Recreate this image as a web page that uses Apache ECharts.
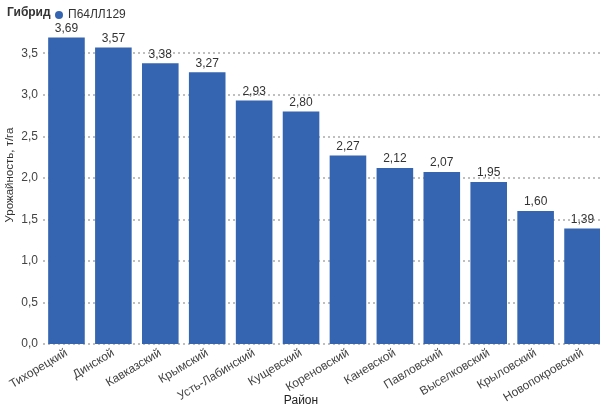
<!DOCTYPE html>
<html><head><meta charset="utf-8">
<script src="https://cdn.jsdelivr.net/npm/echarts@6/dist/echarts.min.js"></script>
<style>html,body{margin:0;padding:0;background:#fff}#c{width:600px;height:408px}</style>
</head><body><div id="c"></div>
<script>
const categories = ['Тихорецкий','Динской','Кавказский','Крымский','Усть-Лабинский','Кущевский','Кореновский','Каневской','Павловский','Выселковский','Крыловский','Новопокровский'];
const values = [3.69,3.57,3.38,3.27,2.93,2.80,2.27,2.12,2.07,1.95,1.60,1.39];
const seriesName = 'П64ЛЛ129';
const legendTitle = 'Гибрид';
const fmt = v => v.toFixed(2).replace('.', ',');
const chart = echarts.init(document.getElementById('c'));
chart.setOption({
  textStyle:{fontFamily:'Liberation Sans, Arial, sans-serif'},
  title:{text:legendTitle,left:2,top:2,textStyle:{fontSize:12,fontWeight:'bold',color:'#333'}},
  legend:{left:50,top:4,itemWidth:8,itemHeight:8,icon:'circle',itemGap:4,textStyle:{fontSize:12,color:'#333'},data:[seriesName]},
  grid:{left:43,right:-6,top:20,bottom:64,outerBoundsMode:'none',containLabel:false},
  xAxis:{type:'category',data:categories,name:'Район',nameLocation:'middle',nameGap:51,nameMoveOverlap:false,
    nameTextStyle:{fontSize:12,color:'#222',padding:[0,47,0,0]},
    axisLine:{show:false},axisTick:{show:false},
    axisLabel:{rotate:31,fontSize:12,color:'#444',margin:8,interval:0}},
  yAxis:{type:'value',min:0,max:3.9,interval:0.5,name:'Урожайность, т/га',nameLocation:'middle',nameGap:27,nameMoveOverlap:false,
    nameTextStyle:{fontSize:11.5,color:'#333',padding:[0,0,0,14]},
    axisLine:{show:false},axisTick:{show:false},
    axisLabel:{fontSize:12,color:'#444',margin:5,showMaxLabel:false,formatter:v=>v.toFixed(1).replace('.', ',')},
    splitLine:{showMaxLine:false,lineStyle:{type:[2,3],color:'#aaa',width:1.5}}},
  series:[{name:seriesName,type:'bar',data:values,barCategoryGap:'22%',
    itemStyle:{color:'#3565b0'},
    label:{show:true,position:'top',fontSize:12,color:'#333',distance:3,formatter:p=>fmt(p.value)}}]
});
</script></body></html>
